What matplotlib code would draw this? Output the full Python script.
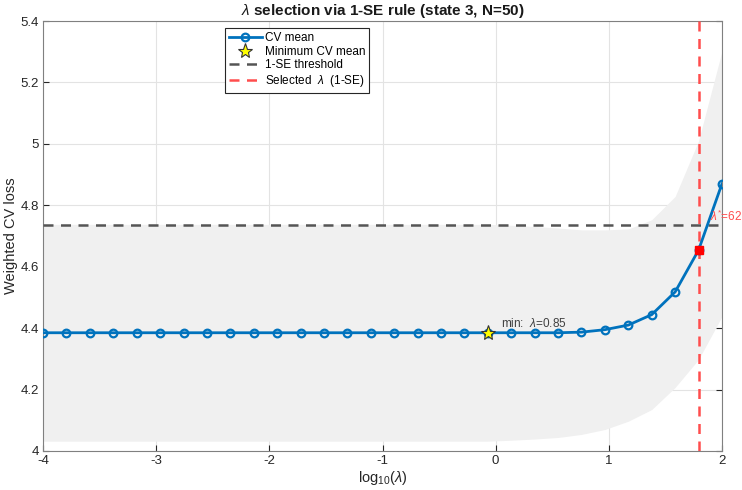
import numpy as np
import matplotlib
matplotlib.use('Agg')
import matplotlib.pyplot as plt

plt.rcParams['font.family'] = ['Liberation Sans', 'DejaVu Sans']
plt.rcParams['mathtext.fontset'] = 'custom'
plt.rcParams['mathtext.rm'] = 'Liberation Sans'
plt.rcParams['mathtext.it'] = 'Liberation Sans:italic'

# lambda grid (log10) and CV results
logLambda = np.linspace(-4, 2, 30)
cvMean = [4.385] * 23 + [4.387, 4.395, 4.410, 4.444, 4.518, 4.654, 4.870]
cvSE = [0.353] * 20 + [0.350, 0.346, 0.341, 0.333, 0.325, 0.313,
                       0.309, 0.311, 0.356, 0.432]
minIdx = 19
selIdx = 28
threshold = 4.735

cvMean = np.array(cvMean)
cvSE = np.array(cvSE)

blue = '#0072BD'
red = '#FF4D4D'

fig = plt.figure(figsize=(7.42, 4.90), dpi=100)
ax = fig.add_axes([0.058, 0.0796, 0.915, 0.8775])

ax.fill_between(logLambda, cvMean - cvSE, cvMean + cvSE,
                color='#f0f0f0', lw=0, zorder=1)
cvLine, = ax.plot(logLambda, cvMean, '-o', color=blue, lw=2, ms=5.5,
                  mfc='none', mew=1.6, zorder=4, label='CV mean')
minPt, = ax.plot(logLambda[minIdx], cvMean[minIdx], '*', ms=11,
                 mfc='yellow', mec='#333333', mew=0.8, zorder=5,
                 label='Minimum CV mean')
thrLine = ax.axhline(threshold, color='#555555', ls=(0, (4, 3)), lw=1.8,
                     zorder=3, label='1-SE threshold')
selLine = ax.axvline(logLambda[selIdx], color=red, ls=(0, (4, 3)), lw=1.8,
                     zorder=3, label=r'Selected  $\lambda$  (1-SE)')
ax.plot(logLambda[selIdx], cvMean[selIdx], 's', color='red', ms=6,
        zorder=6)

ax.text(logLambda[minIdx] + 0.12, cvMean[minIdx] + 0.008,
        r'min:  $\lambda$=%.2f' % 10 ** logLambda[minIdx],
        fontsize=8.5, color='#404040', va='bottom', zorder=7)
ax.text(logLambda[selIdx] + 0.1, threshold + 0.03,
        r'$\lambda^{*}$=%d' % round(10 ** logLambda[selIdx]),
        fontsize=8.5, color=red, va='center', zorder=7, clip_on=False)

ax.set_xlim(-4, 2)
ax.set_ylim(4, 5.4)
ax.set_xticks(range(-4, 3))
ax.set_xticklabels([str(t) for t in range(-4, 3)])
ax.set_yticks(np.arange(4, 5.41, 0.2))
ax.set_yticklabels(['4', '4.2', '4.4', '4.6', '4.8', '5', '5.2', '5.4'])
ax.grid(True, color='#e3e3e3', lw=0.8)
ax.set_axisbelow(True)
ax.tick_params(direction='in', length=4, labelsize=9.5, colors='#262626',
               top=False, right=True, pad=3)
for s in ax.spines.values():
    s.set_color('#808080')
    s.set_linewidth(0.8)

ax.set_xlabel(r'log$_{10}$($\lambda$)', fontsize=10.5, color='#262626',
              labelpad=1)
ax.set_ylabel('Weighted CV loss', fontsize=10.5, color='#262626',
              labelpad=2)
ax.set_title(r'$\lambda$ selection via 1-SE rule (state 3, N=50)',
             fontsize=11, fontweight='bold', color='#1a1a1a', pad=4)

leg = ax.legend(handles=[cvLine, minPt, thrLine, selLine],
                loc='upper left', bbox_to_anchor=(0.268, 0.983),
                borderaxespad=0, fontsize=8.5, frameon=True, fancybox=False,
                framealpha=1, edgecolor='#262626', borderpad=0.3,
                labelspacing=0.15, handlelength=2.8, handletextpad=0.3)
leg.get_frame().set_linewidth(0.8)

fig.savefig('out.png', dpi=100)
